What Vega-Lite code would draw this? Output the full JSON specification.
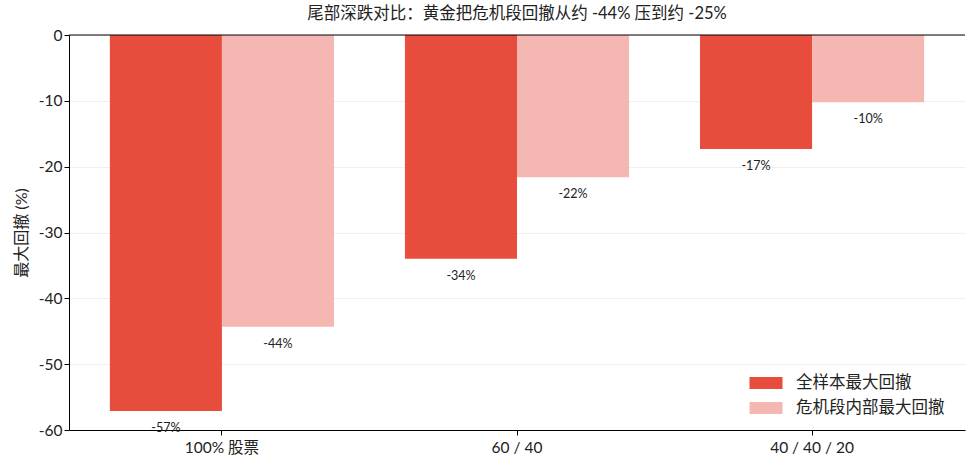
{
  "$schema": "https://vega.github.io/schema/vega-lite/v6.json",
  "width": 896,
  "height": 395,
  "autosize": {"type": "none"},
  "padding": {"left": 69, "top": 35, "right": 10, "bottom": 39},
  "config": {
    "font": "Lato, Noto Sans CJK SC",
    "view": {"stroke": null},
    "axis": {"labelFont": "Lato, Noto Sans CJK SC", "titleFont": "Lato, Noto Sans CJK SC", "labelColor": "#222", "titleColor": "#222", "domainColor": "#000", "tickColor": "#000"}
  },
  "title": {"text": "尾部深跌对比：黄金把危机段回撤从约 -44% 压到约 -25%", "fontSize": 16.5, "fontWeight": "normal", "font": "Lato, Noto Sans CJK SC", "offset": 6, "anchor": "middle", "color": "#222"},
  "data": {
    "values": [
      {"portfolio": "100% 股票", "series": "全样本最大回撤", "value": -57.1},
      {"portfolio": "100% 股票", "series": "危机段内部最大回撤", "value": -44.3},
      {"portfolio": "60 / 40", "series": "全样本最大回撤", "value": -34.0},
      {"portfolio": "60 / 40", "series": "危机段内部最大回撤", "value": -21.6},
      {"portfolio": "40 / 40 / 20", "series": "全样本最大回撤", "value": -17.3},
      {"portfolio": "40 / 40 / 20", "series": "危机段内部最大回撤", "value": -10.2}
    ]
  },
  "layer": [
    {
      "mark": {"type": "bar"},
      "encoding": {
        "x": {
          "field": "portfolio", "type": "nominal", "sort": ["100% 股票", "60 / 40", "40 / 40 / 20"],
          "scale": {"paddingInner": 0.2405, "paddingOuter": 0.1385},
          "axis": {"title": null, "labelAngle": 0, "labelFontSize": 15.5, "tickSize": 5, "labelPadding": 5, "grid": false}
        },
        "xOffset": {"field": "series", "type": "nominal", "sort": ["全样本最大回撤", "危机段内部最大回撤"], "scale": {"paddingInner": 0, "paddingOuter": 0}},
        "y": {
          "field": "value", "type": "quantitative",
          "scale": {"domain": [-60, 0], "nice": false},
          "axis": {"title": "最大回撤 (%)", "titleFontSize": 16, "titleFontWeight": "normal", "labelFontSize": 15.5, "values": [-60, -50, -40, -30, -20, -10, 0], "labelExpr": "datum.value + ''", "tickSize": 5, "gridColor": "#ebebeb", "gridWidth": 0.8, "titlePadding": 9}
        },
        "color": {
          "field": "series", "type": "nominal",
          "scale": {"domain": ["全样本最大回撤", "危机段内部最大回撤"], "range": ["#E74C3C", "#F5B7B1"]},
          "legend": {
            "title": null, "orient": "none", "legendX": 685, "legendY": 336,
            "symbolType": "M-1.375,-0.5H1.375V0.5H-1.375Z", "symbolSize": 576, "symbolStrokeWidth": 0,
            "labelFontSize": 16.5, "labelFont": "Noto Sans CJK SC", "labelColor": "#222", "labelOffset": 18, "rowPadding": 4
          }
        }
      }
    },
    {
      "transform": [{"calculate": "round(datum.value) + '%'", "as": "label"}],
      "mark": {"type": "text", "baseline": "top", "dy": 11, "fontSize": 12.5, "color": "#222"},
      "encoding": {
        "x": {"field": "portfolio", "type": "nominal", "sort": ["100% 股票", "60 / 40", "40 / 40 / 20"]},
        "xOffset": {"field": "series", "type": "nominal", "sort": ["全样本最大回撤", "危机段内部最大回撤"]},
        "y": {"field": "value", "type": "quantitative"},
        "text": {"field": "label"}
      }
    },
    {
      "data": {"values": [{"y": 0}]},
      "mark": {"type": "rule", "color": "#000", "strokeWidth": 1},
      "encoding": {"y": {"field": "y", "type": "quantitative"}}
    }
  ]
}
